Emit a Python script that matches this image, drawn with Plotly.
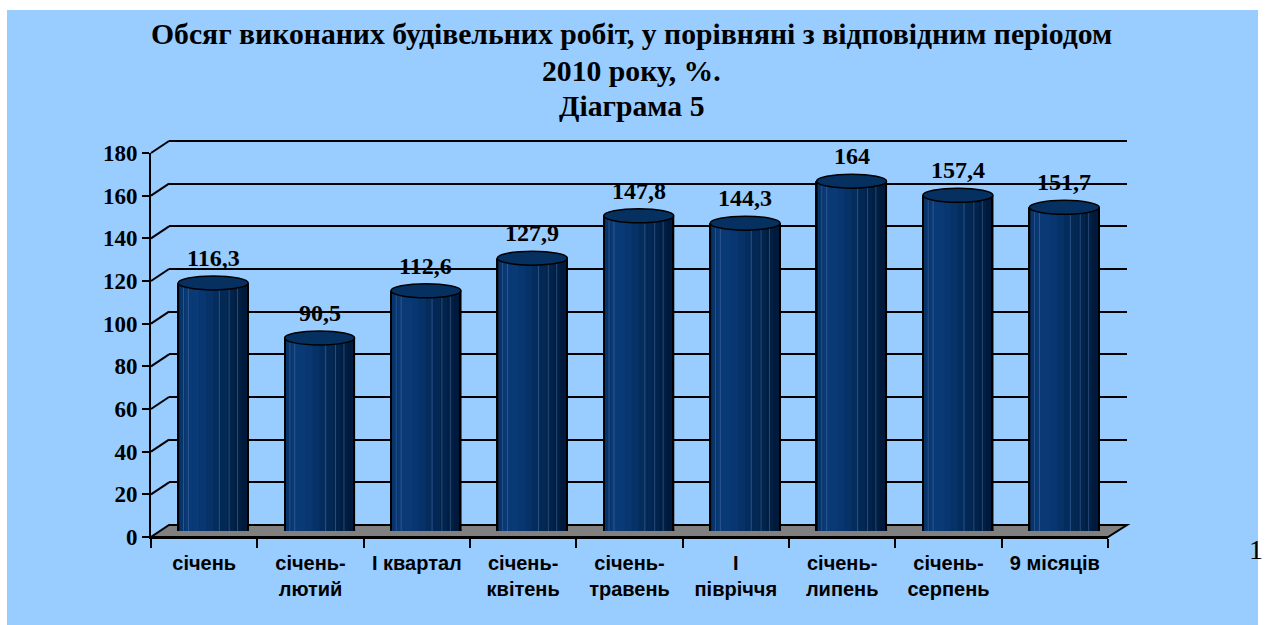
import plotly.graph_objects as go

# ---------------- data ----------------
categories = ["січень", "січень-<br>лютий", "І квартал", "січень-<br>квітень", "січень-<br>травень",
              "І<br>півріччя", "січень-<br>липень", "січень-<br>серпень", "9 місяців"]
values = [116.3, 90.5, 112.6, 127.9, 147.8, 144.3, 164, 157.4, 151.7]
value_labels = ["116,3", "90,5", "112,6", "127,9", "147,8", "144,3", "164", "157,4", "151,7"]
y_ticks = [0, 20, 40, 60, 80, 100, 120, 140, 160, 180]
title_lines = ["Обсяг виконаних будівельних робіт, у порівняні з відповідним періодом",
               "2010 року, %.", "Діаграма 5"]

# ---------------- geometry (pixels) ----------------
W, H = 1266, 625
def px(x):
    return x / W
def py(y):
    return 1 - y / H

FRONT_L, FRONT_R, FRONT_B, FRONT_T = 151, 1108, 537, 153
DX, DY = 18, 12  # depth offset
YMAX = 180
PPU = (FRONT_B - FRONT_T) / YMAX
BACK_EXTRA = 1.5  # extend back-wall range so its top gridline is drawn

SERIF = "Times New Roman, Liberation Serif, serif"
SANS = "Arial, Liberation Sans, sans-serif"
BAR_W = 0.66
shade = ['#07346A', '#093A75', '#093A75', '#083670', '#063267', '#042D5E',
         '#032854', '#02234B', '#011E43', '#011A3C']
stripe_pos = [0.07, 0.14, 0.58, 0.72, 0.84]
title_centers = [34, 70.5, 106]

fig = go.Figure()

idx = list(range(len(categories)))

# anchor traces for back wall and front subplots
fig.add_trace(go.Scatter(x=categories, y=[None] * len(categories), xaxis="x", yaxis="y",
                         showlegend=False, hoverinfo="skip"))
fig.add_trace(go.Scatter(x=categories, y=[None] * len(categories), xaxis="x3", yaxis="y3",
                         showlegend=False, hoverinfo="skip"))

# cylinder body slices
n = len(shade)
sw = BAR_W / n
for k, c in enumerate(shade):
    fig.add_trace(go.Bar(x=categories, y=values, xaxis="x2", yaxis="y2",
                         width=sw * 1.4 if k < n - 1 else sw, offset=-BAR_W / 2 + k * sw,
                         marker=dict(color=c, line=dict(width=0)),
                         showlegend=False, hoverinfo="skip"))
# light stripes
for p in stripe_pos:
    fig.add_trace(go.Bar(x=categories, y=values, xaxis="x2", yaxis="y2",
                         width=0.009, offset=-BAR_W / 2 + p * BAR_W,
                         marker=dict(color="rgba(80,120,175,0.5)", line=dict(width=0)),
                         showlegend=False, hoverinfo="skip"))
# side outlines
for off in (-BAR_W / 2 - 0.004, BAR_W / 2 - 0.011):
    fig.add_trace(go.Bar(x=categories, y=values, xaxis="x2", yaxis="y2",
                         width=0.015, offset=off,
                         marker=dict(color="black", line=dict(width=0)),
                         showlegend=False, hoverinfo="skip"))

shapes = []
# blue background panel
shapes.append(dict(type="rect", xref="paper", yref="paper", x0=px(7), x1=px(1258), y0=0, y1=py(10),
                   fillcolor="#99CCFF", line=dict(width=0), layer="below"))
# floor
floor_path = "M {a},{b} L {c},{b} L {d},{e} L {f},{e} Z".format(
    a=px(FRONT_L), b=py(FRONT_B), c=px(FRONT_R), d=px(FRONT_R + DX + 1), e=py(FRONT_B - DY), f=px(FRONT_L + DX))
shapes.append(dict(type="path", xref="paper", yref="paper", path=floor_path,
                   fillcolor="#808080", line=dict(color="black", width=2), layer="below"))
# diagonal connectors from y axis to back wall (anchored on the back-wall axis)
for v in y_ticks[1:]:
    shapes.append(dict(type="line", xref="paper", xsizemode="pixel", xanchor=px(FRONT_L), x0=0, x1=DX,
                       yref="y", ysizemode="pixel", yanchor=v, y0=-DY, y1=0,
                       line=dict(color="black", width=2), layer="below"))
# cylinder bottom and top ellipses
for i, v in zip(idx, values):
    shapes.append(dict(type="circle", xref="x2", xsizemode="pixel", xanchor=i, x0=-35, x1=35,
                       yref="y2", ysizemode="pixel", yanchor=0, y0=-7, y1=7,
                       fillcolor="#03295A", line=dict(color="black", width=1.5), layer="below"))
    shapes.append(dict(type="circle", xref="x2", xsizemode="pixel", xanchor=i, x0=-35, x1=35,
                       yref="y2", ysizemode="pixel", yanchor=v, y0=-7, y1=7,
                       fillcolor="#06305F", line=dict(color="black", width=1.5), layer="above"))

annotations = []
for i, (v, t) in enumerate(zip(values, value_labels)):
    annotations.append(dict(x=i, y=v, xref="x2", yref="y2", text=t, showarrow=False,
                            yanchor="bottom", yshift=10,
                            font=dict(family=SERIF, size=24, color="black", weight="bold")))
annotations.append(dict(x=px(1256), y=py(549), xref="paper", yref="paper", text="1", showarrow=False,
                        xanchor="center", yanchor="middle",
                        font=dict(family=SERIF, size=28, color="black")))
for line, yc in zip(title_lines, title_centers):
    annotations.append(dict(x=px(631), y=py(yc), xref="paper", yref="paper", xanchor="center",
                            yanchor="middle", text=line, showarrow=False,
                            font=dict(family=SERIF, size=29.7, color="black", weight="bold")))

common_x = dict(type="category", range=[-0.5, len(categories) - 0.5], showgrid=False, zeroline=False)
fig.update_layout(
    template="none",
    width=W, height=H, autosize=False,
    margin=dict(l=0, r=0, t=0, b=0, pad=0, autoexpand=False),
    paper_bgcolor="white", plot_bgcolor="rgba(0,0,0,0)",
    barmode="overlay", showlegend=False,
    # back wall
    xaxis=dict(domain=[px(FRONT_L + DX), px(FRONT_R + DX + 1)], anchor="y", visible=False, **common_x),
    yaxis=dict(domain=[py(FRONT_B - DY), py(FRONT_T - DY - PPU * BACK_EXTRA)], anchor="x",
               range=[0, YMAX + BACK_EXTRA], tickvals=y_ticks,
               showgrid=True, gridcolor="black", gridwidth=2, showticklabels=False, ticks="",
               showline=False, zeroline=False),
    # bars (mid depth)
    xaxis2=dict(domain=[px(FRONT_L + DX / 2), px(FRONT_R + DX / 2 + 0.5)], anchor="y2", visible=False, **common_x),
    yaxis2=dict(domain=[py(FRONT_B - DY / 2), py(FRONT_T - DY / 2)], anchor="x2", range=[0, YMAX],
                visible=False),
    # front axes
    xaxis3=dict(domain=[px(FRONT_L), px(FRONT_R)], anchor="y3", showline=True, linecolor="black", linewidth=2,
                ticks="outside", ticklen=9, tickwidth=2, tickcolor="black", tickson="boundaries",
                ticklabelstandoff=7,
                tickfont=dict(family=SANS, size=20, color="black", weight="bold"), **common_x),
    yaxis3=dict(domain=[py(FRONT_B), py(FRONT_T)], anchor="x3", range=[0, YMAX], tickvals=y_ticks,
                showline=True, linecolor="black", linewidth=2, showgrid=False, zeroline=False,
                ticks="outside", ticklen=7, tickwidth=2, tickcolor="black",
                tickfont=dict(family=SERIF, size=23, color="black", weight="bold")),
    shapes=shapes, annotations=annotations,
)

fig.write_html("out.html", config={"displayModeBar": False},
               post_script="document.body.style.margin='0';document.body.style.overflow='hidden';")
